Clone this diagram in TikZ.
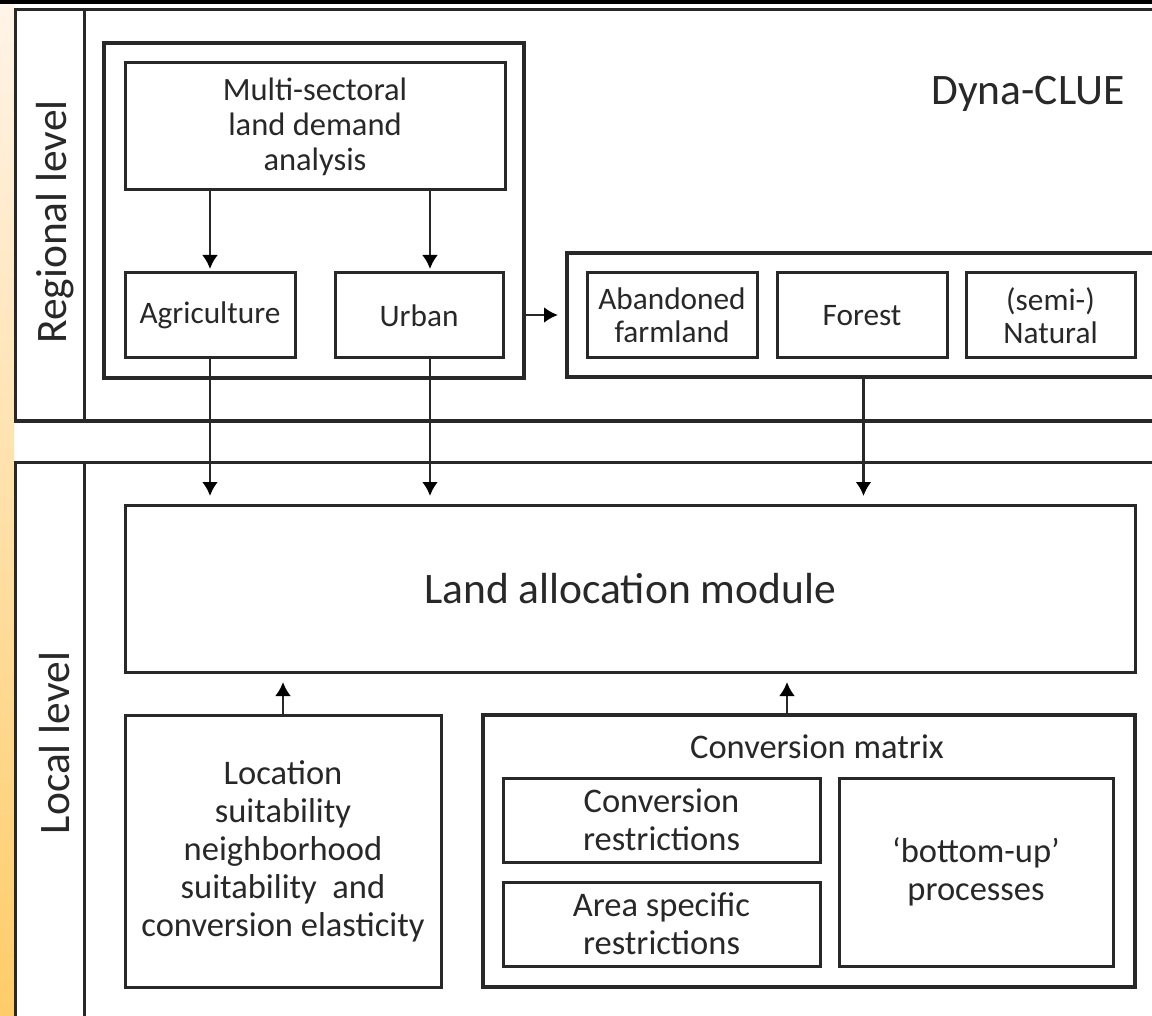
\documentclass[tikz,border=0pt]{standalone}
\usepackage{fontspec}
\setmainfont{Carlito}
\usetikzlibrary{arrows.meta}
\definecolor{striptop}{RGB}{255,244,232}
\definecolor{stripbot}{RGB}{255,204,104}
\definecolor{ink}{RGB}{40,40,40}
\tikzset{
  box/.style={draw=ink, line width=3pt, inner sep=0pt, outer sep=0pt, align=center, text=ink},
  grpbox/.style={draw=ink, line width=3.6pt, inner sep=0pt, outer sep=0pt},
  arr/.style={draw=ink, line width=2.8pt, -{Latex[length=14pt,width=16pt,color=black]}},
  frame/.style={draw=ink, line width=3pt},
  txtS/.style={font=\fontsize{31.3}{33}\selectfont},
  txtM/.style={font=\fontsize{34.5}{38}\selectfont},
  txtL/.style={font=\fontsize{43.5}{50}\selectfont},
}
\begin{document}
\begin{tikzpicture}[x=1pt, y=-1pt]
\useasboundingbox (0,0) rectangle (1152,1016);
\clip (0,0) rectangle (1152,1016);
\fill[white] (0,0) rectangle (1152,1016);
\shade[top color=striptop, bottom color=stripbot] (0,4) rectangle (14,1016);
\fill[black] (0,0) rectangle (1152,4.5);

\draw[frame] (1160,10) -- (15,10) -- (15,421) -- (1160,421);
\draw[frame] (84,10) -- (84,421);
\draw[frame] (1160,462) -- (15,462) -- (15,1020);
\draw[frame] (84,462) -- (84,1020);

\node[rotate=90, txtL, text=ink] (reglab) at (55,222) {Regional level};
\node[rotate=90, txtL, text=ink] (loclab) at (55,743) {Local level};
\node[txtL, text=ink] (dyna) at (1028,94) {Dyna-CLUE};

\node[grpbox, minimum width=420pt, minimum height=335pt] (grp) at (314,210.5) {};
\node[box, font=\fontsize{32.5}{35}\selectfont, minimum width=380pt, minimum height=127pt] (multi) at (315,126.5) {Multi-sectoral\\land demand\\analysis};
\node[box, txtS, minimum width=170pt, minimum height=85pt] (agri) at (210,315.5) {Agriculture};
\node[box, txtS, minimum width=168pt, minimum height=85pt] (urban) at (419,315.5) {Urban};

\node[grpbox, minimum width=593pt, minimum height=124pt] (rgrp) at (863.5,315) {};
\node[box, txtS, minimum width=170pt, minimum height=85pt] (aband) at (672,315.5) {Abandoned\\farmland};
\node[box, txtS, minimum width=170pt, minimum height=85pt] (forest) at (862,315.5) {Forest};
\node[box, txtS, minimum width=169pt, minimum height=85pt] (natural) at (1050.5,315.5) {(semi-)\\Natural};

\node[box, txtL, minimum width=1010pt, minimum height=167pt] (land) at (630,588.5) {Land allocation module};

\node[box, txtM, minimum width=316pt, minimum height=272pt] (loc) at (283,851) {Location\\suitability\\neighborhood\\suitability \ and\\conversion elasticity};
\node[grpbox, minimum width=652pt, minimum height=272pt] (convgrp) at (809,851) {};
\node[txtM, text=ink] (convlab) at (817,747) {Conversion matrix};
\node[box, txtM, minimum width=317pt, minimum height=84pt] (restr) at (661.5,820) {Conversion\\restrictions};
\node[box, txtM, minimum width=317pt, minimum height=84pt] (area) at (661.5,924) {Area specific\\restrictions};
\node[box, txtM, minimum width=274pt, minimum height=188pt] (bottomup) at (976,872) {‘bottom-up’\\processes};

\coordinate (ux) at (430,0);
\coordinate (cx) at (787,0);

\draw[arr, shorten >=4pt] (multi.south -| agri) -- (agri.north);
\draw[arr, shorten >=4pt] (multi.south -| ux) -- (urban.north -| ux);
\draw[arr, shorten >=9pt] (grp.east |- rgrp.west) -- (rgrp.west);
\draw[arr, shorten >=9pt] (agri.south) -- (agri.south |- land.north);
\draw[arr, shorten >=9pt] (urban.south -| ux) -- (land.north -| ux);
\draw[arr, shorten >=9pt] (rgrp.south) -- (rgrp.south |- land.north);
\draw[arr, shorten >=10pt] (loc.north) -- (loc.north |- land.south);
\draw[arr, shorten >=10pt] (convgrp.north -| cx) -- (land.south -| cx);
\end{tikzpicture}
\end{document}
